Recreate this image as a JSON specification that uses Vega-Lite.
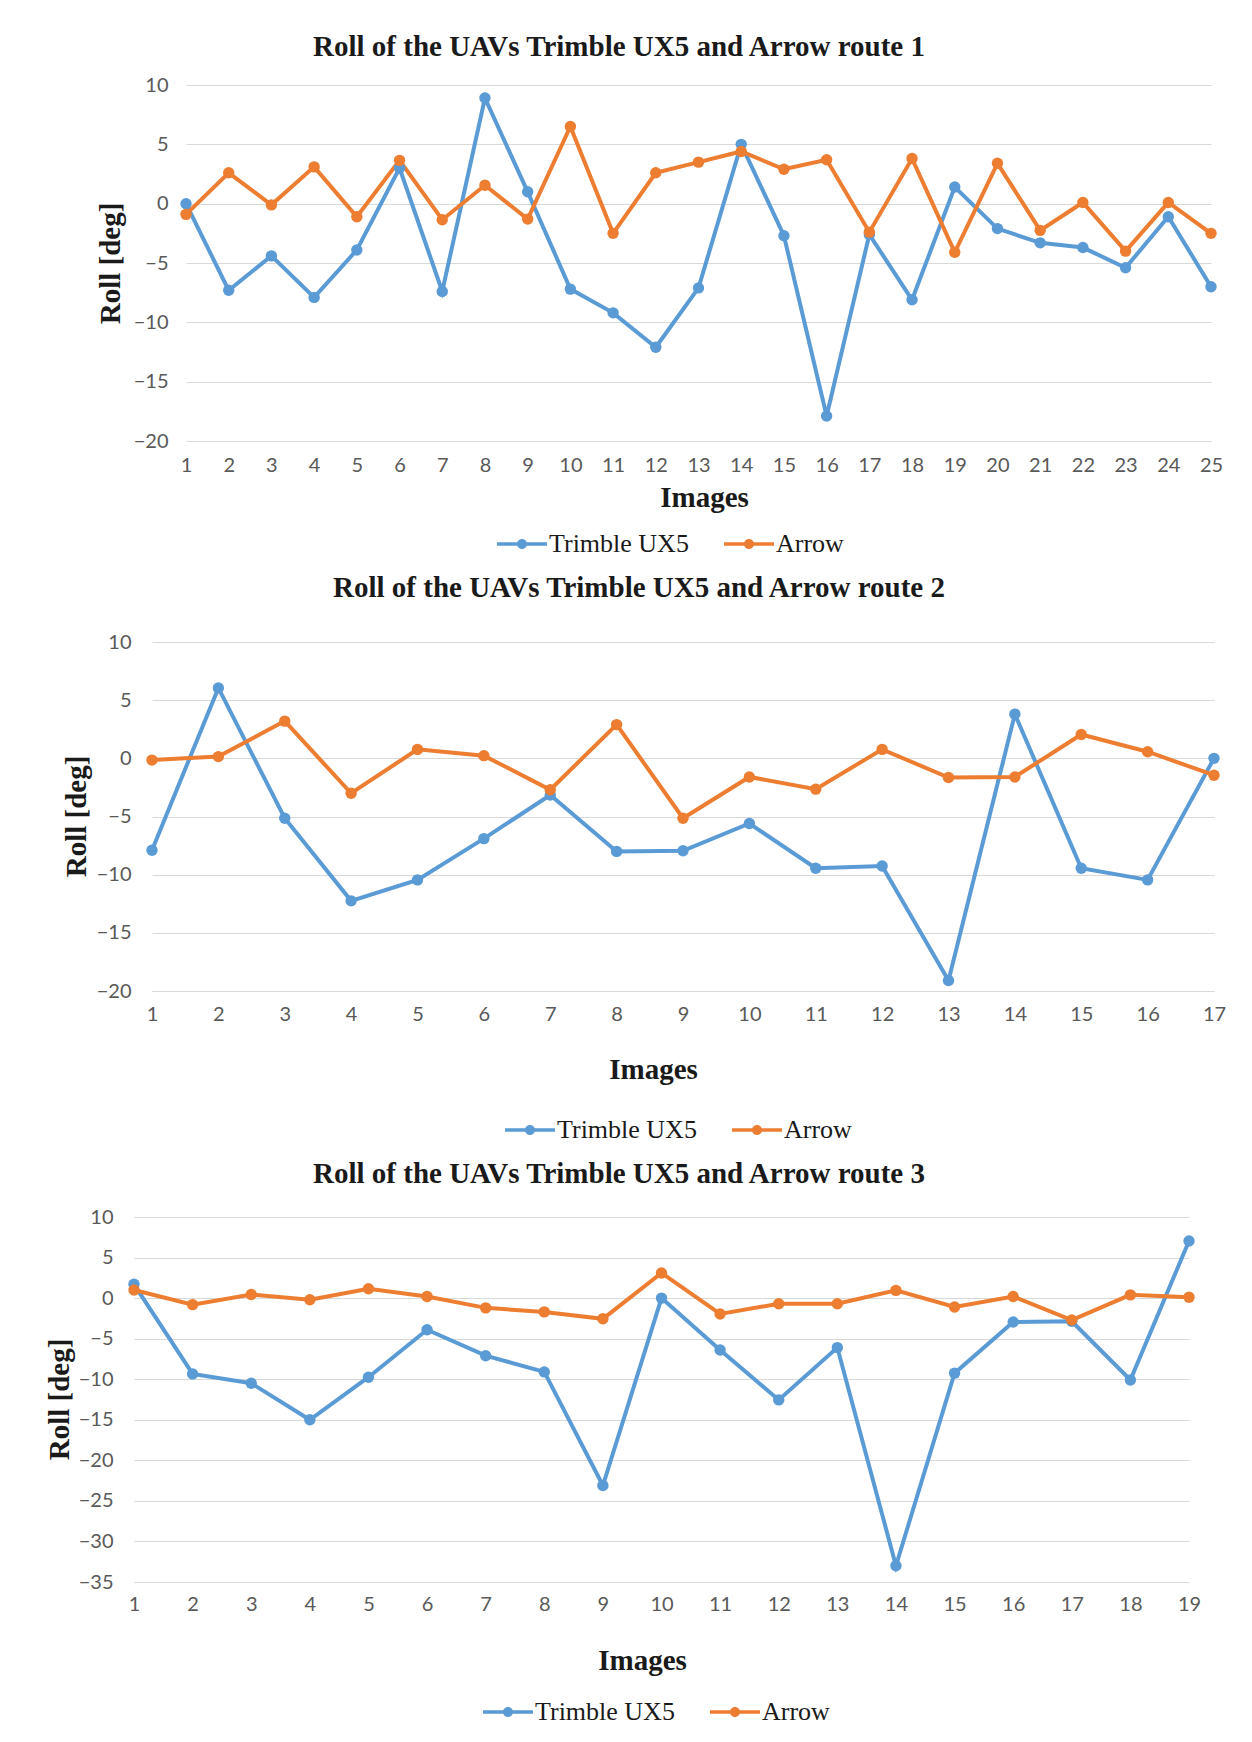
{
  "$schema": "https://vega.github.io/schema/vega-lite/v6.json",
  "background": "white",
  "padding": {"left": 45, "top": 33, "right": 5, "bottom": 5},
  "spacing": 17,
  "datasets": {
    "r1": [
      {"image":1,"series":"Trimble UX5","roll":0},{"image":2,"series":"Trimble UX5","roll":-7.3},{"image":3,"series":"Trimble UX5","roll":-4.4},{"image":4,"series":"Trimble UX5","roll":-7.9},{"image":5,"series":"Trimble UX5","roll":-3.9},{"image":6,"series":"Trimble UX5","roll":3.0},{"image":7,"series":"Trimble UX5","roll":-7.4},{"image":8,"series":"Trimble UX5","roll":8.9},{"image":9,"series":"Trimble UX5","roll":1.0},{"image":10,"series":"Trimble UX5","roll":-7.2},{"image":11,"series":"Trimble UX5","roll":-9.2},{"image":12,"series":"Trimble UX5","roll":-12.1},{"image":13,"series":"Trimble UX5","roll":-7.1},{"image":14,"series":"Trimble UX5","roll":5.0},{"image":15,"series":"Trimble UX5","roll":-2.7},{"image":16,"series":"Trimble UX5","roll":-17.9},{"image":17,"series":"Trimble UX5","roll":-2.6},{"image":18,"series":"Trimble UX5","roll":-8.1},{"image":19,"series":"Trimble UX5","roll":1.4},{"image":20,"series":"Trimble UX5","roll":-2.1},{"image":21,"series":"Trimble UX5","roll":-3.3},{"image":22,"series":"Trimble UX5","roll":-3.7},{"image":23,"series":"Trimble UX5","roll":-5.4},{"image":24,"series":"Trimble UX5","roll":-1.1},{"image":25,"series":"Trimble UX5","roll":-7.0},
      {"image":1,"series":"Arrow","roll":-0.9},{"image":2,"series":"Arrow","roll":2.6},{"image":3,"series":"Arrow","roll":-0.1},{"image":4,"series":"Arrow","roll":3.1},{"image":5,"series":"Arrow","roll":-1.1},{"image":6,"series":"Arrow","roll":3.65},{"image":7,"series":"Arrow","roll":-1.35},{"image":8,"series":"Arrow","roll":1.55},{"image":9,"series":"Arrow","roll":-1.3},{"image":10,"series":"Arrow","roll":6.5},{"image":11,"series":"Arrow","roll":-2.5},{"image":12,"series":"Arrow","roll":2.6},{"image":13,"series":"Arrow","roll":3.5},{"image":14,"series":"Arrow","roll":4.4},{"image":15,"series":"Arrow","roll":2.9},{"image":16,"series":"Arrow","roll":3.7},{"image":17,"series":"Arrow","roll":-2.4},{"image":18,"series":"Arrow","roll":3.8},{"image":19,"series":"Arrow","roll":-4.1},{"image":20,"series":"Arrow","roll":3.4},{"image":21,"series":"Arrow","roll":-2.25},{"image":22,"series":"Arrow","roll":0.1},{"image":23,"series":"Arrow","roll":-4.0},{"image":24,"series":"Arrow","roll":0.1},{"image":25,"series":"Arrow","roll":-2.5}
    ],
    "r2": [
      {"image":1,"series":"Trimble UX5","roll":-7.9},{"image":2,"series":"Trimble UX5","roll":6.05},{"image":3,"series":"Trimble UX5","roll":-5.15},{"image":4,"series":"Trimble UX5","roll":-12.25},{"image":5,"series":"Trimble UX5","roll":-10.45},{"image":6,"series":"Trimble UX5","roll":-6.9},{"image":7,"series":"Trimble UX5","roll":-3.15},{"image":8,"series":"Trimble UX5","roll":-8.0},{"image":9,"series":"Trimble UX5","roll":-7.95},{"image":10,"series":"Trimble UX5","roll":-5.6},{"image":11,"series":"Trimble UX5","roll":-9.45},{"image":12,"series":"Trimble UX5","roll":-9.25},{"image":13,"series":"Trimble UX5","roll":-19.1},{"image":14,"series":"Trimble UX5","roll":3.8},{"image":15,"series":"Trimble UX5","roll":-9.45},{"image":16,"series":"Trimble UX5","roll":-10.45},{"image":17,"series":"Trimble UX5","roll":0},
      {"image":1,"series":"Arrow","roll":-0.15},{"image":2,"series":"Arrow","roll":0.15},{"image":3,"series":"Arrow","roll":3.2},{"image":4,"series":"Arrow","roll":-3.0},{"image":5,"series":"Arrow","roll":0.77},{"image":6,"series":"Arrow","roll":0.23},{"image":7,"series":"Arrow","roll":-2.7},{"image":8,"series":"Arrow","roll":2.9},{"image":9,"series":"Arrow","roll":-5.15},{"image":10,"series":"Arrow","roll":-1.6},{"image":11,"series":"Arrow","roll":-2.65},{"image":12,"series":"Arrow","roll":0.77},{"image":13,"series":"Arrow","roll":-1.65},{"image":14,"series":"Arrow","roll":-1.6},{"image":15,"series":"Arrow","roll":2.05},{"image":16,"series":"Arrow","roll":0.57},{"image":17,"series":"Arrow","roll":-1.45}
    ],
    "r3": [
      {"image":1,"series":"Trimble UX5","roll":1.7},{"image":2,"series":"Trimble UX5","roll":-9.35},{"image":3,"series":"Trimble UX5","roll":-10.5},{"image":4,"series":"Trimble UX5","roll":-15.0},{"image":5,"series":"Trimble UX5","roll":-9.75},{"image":6,"series":"Trimble UX5","roll":-3.9},{"image":7,"series":"Trimble UX5","roll":-7.1},{"image":8,"series":"Trimble UX5","roll":-9.1},{"image":9,"series":"Trimble UX5","roll":-23.1},{"image":10,"series":"Trimble UX5","roll":0},{"image":11,"series":"Trimble UX5","roll":-6.4},{"image":12,"series":"Trimble UX5","roll":-12.55},{"image":13,"series":"Trimble UX5","roll":-6.1},{"image":14,"series":"Trimble UX5","roll":-33.0},{"image":15,"series":"Trimble UX5","roll":-9.25},{"image":16,"series":"Trimble UX5","roll":-2.95},{"image":17,"series":"Trimble UX5","roll":-2.85},{"image":18,"series":"Trimble UX5","roll":-10.1},{"image":19,"series":"Trimble UX5","roll":7.05},
      {"image":1,"series":"Arrow","roll":1.0},{"image":2,"series":"Arrow","roll":-0.8},{"image":3,"series":"Arrow","roll":0.45},{"image":4,"series":"Arrow","roll":-0.2},{"image":5,"series":"Arrow","roll":1.15},{"image":6,"series":"Arrow","roll":0.2},{"image":7,"series":"Arrow","roll":-1.2},{"image":8,"series":"Arrow","roll":-1.7},{"image":9,"series":"Arrow","roll":-2.55},{"image":10,"series":"Arrow","roll":3.1},{"image":11,"series":"Arrow","roll":-1.95},{"image":12,"series":"Arrow","roll":-0.7},{"image":13,"series":"Arrow","roll":-0.7},{"image":14,"series":"Arrow","roll":0.95},{"image":15,"series":"Arrow","roll":-1.1},{"image":16,"series":"Arrow","roll":0.2},{"image":17,"series":"Arrow","roll":-2.7},{"image":18,"series":"Arrow","roll":0.4},{"image":19,"series":"Arrow","roll":0.1}
    ]
  },
  "resolve": {"scale": {"x": "independent", "y": "independent", "color": "independent"}, "legend": {"color": "independent"}},
  "vconcat": [
    {
      "data": {"name": "r1"},
      "width": 1080,
      "height": 356,
      "title": {"text": "Roll of the UAVs Trimble UX5 and Arrow route 1", "frame": "group", "anchor": "middle", "dx": -55, "baseline": "middle", "offset": -1},
      "encoding": {
        "x": {"field": "image", "type": "quantitative", "title": "Images", "scale": {"domain": [1, 25], "nice": false, "zero": false, "range": [52, 1077]},
              "axis": {"values": [1,2,3,4,5,6,7,8,9,10,11,12,13,14,15,16,17,18,19,20,21,22,23,24,25], "grid": false, "labelFlush": false, "labelPadding": 14, "titleX": 570, "titleY": 56, "titleBaseline": "middle"}},
        "y": {"field": "roll", "type": "quantitative", "title": "Roll [deg]", "scale": {"domain": [-20, 10], "nice": false},
              "axis": {"values": [-20,-15,-10,-5,0,5,10], "offset": -50, "labelPadding": 16, "titleX": -74, "titleY": 178, "titleBaseline": "middle", "titleAlign": "center", "titleAngle": 270}},
        "color": {"field": "series", "type": "nominal", "sort": ["Trimble UX5", "Arrow"], "scale": {"domain": ["Trimble UX5", "Arrow"], "range": ["#5B9BD5", "#ED7D31"]},
                  "legend": {"title": null, "orient": "none", "direction": "horizontal", "legendX": 363, "legendY": 434}}
      },
      "layer": [
        {"mark": {"type": "line", "strokeWidth": 4}},
        {"mark": {"type": "point", "filled": true, "size": 130, "opacity": 1}}
      ]
    },
    {
      "data": {"name": "r2"},
      "width": 1080,
      "height": 349,
      "title": {"text": "Roll of the UAVs Trimble UX5 and Arrow route 2", "frame": "group", "anchor": "middle", "dx": -35, "baseline": "middle", "offset": 15},
      "encoding": {
        "x": {"field": "image", "type": "quantitative", "title": "Images", "scale": {"domain": [1, 17], "nice": false, "zero": false, "range": [18, 1080]},
              "axis": {"values": [1,2,3,4,5,6,7,8,9,10,11,12,13,14,15,16,17], "grid": false, "labelFlush": false, "labelPadding": 13, "titleX": 519, "titleY": 78, "titleBaseline": "middle"}},
        "y": {"field": "roll", "type": "quantitative", "title": "Roll [deg]", "scale": {"domain": [-20, 10], "nice": false},
              "axis": {"values": [-20,-15,-10,-5,0,5,10], "offset": -18, "labelPadding": 21, "titleX": -76, "titleY": 174, "titleBaseline": "middle", "titleAlign": "center", "titleAngle": 270}},
        "color": {"field": "series", "type": "nominal", "sort": ["Trimble UX5", "Arrow"], "scale": {"domain": ["Trimble UX5", "Arrow"], "range": ["#5B9BD5", "#ED7D31"]},
                  "legend": {"title": null, "orient": "none", "direction": "horizontal", "legendX": 371, "legendY": 463}}
      },
      "layer": [
        {"mark": {"type": "line", "strokeWidth": 4}},
        {"mark": {"type": "point", "filled": true, "size": 130, "opacity": 1}}
      ]
    },
    {
      "data": {"name": "r3"},
      "width": 1080,
      "height": 365,
      "title": {"text": "Roll of the UAVs Trimble UX5 and Arrow route 3", "frame": "group", "anchor": "middle", "dx": -55, "baseline": "middle", "offset": 4},
      "encoding": {
        "x": {"field": "image", "type": "quantitative", "title": "Images", "scale": {"domain": [1, 19], "nice": false, "zero": false, "range": [0, 1055]},
              "axis": {"values": [1,2,3,4,5,6,7,8,9,10,11,12,13,14,15,16,17,18,19], "grid": false, "labelFlush": false, "labelPadding": 12, "titleX": 508, "titleY": 78, "titleBaseline": "middle"}},
        "y": {"field": "roll", "type": "quantitative", "title": "Roll [deg]", "scale": {"domain": [-35, 10], "nice": false},
              "axis": {"values": [-35,-30,-25,-20,-15,-10,-5,0,5,10], "labelPadding": 21, "titleX": -75, "titleY": 182, "titleBaseline": "middle", "titleAlign": "center", "titleAngle": 270}},
        "color": {"field": "series", "type": "nominal", "sort": ["Trimble UX5", "Arrow"], "scale": {"domain": ["Trimble UX5", "Arrow"], "range": ["#5B9BD5", "#ED7D31"]},
                  "legend": {"title": null, "orient": "none", "direction": "horizontal", "legendX": 349, "legendY": 470}}
      },
      "layer": [
        {"mark": {"type": "line", "strokeWidth": 4}},
        {"mark": {"type": "point", "filled": true, "size": 130, "opacity": 1}}
      ]
    }
  ],
  "config": {
    "view": {"stroke": null},
    "title": {"font": "Liberation Serif", "fontSize": 29, "fontWeight": "bold", "color": "#1a1a1a"},
    "axis": {"labelFont": "Lato", "labelFontSize": 20, "labelColor": "#595959", "gridColor": "#d9d9d9", "gridWidth": 1.2, "domain": false, "ticks": false,
             "titleFont": "Liberation Serif", "titleFontSize": 29, "titleFontWeight": "bold", "titleColor": "#1a1a1a"},
    "axisX": {"domain": true, "domainColor": "#d9d9d9", "domainWidth": 1.2},
    "legend": {"labelFont": "Liberation Serif", "labelFontSize": 26, "labelColor": "#1a1a1a", "labelOffset": 2, "columnPadding": 35,
               "symbolType": "M-1,-0.07H1V0.07H-1Z M0.2,0A0.2,0.2,0,1,1,-0.2,0A0.2,0.2,0,1,1,0.2,0Z",
               "symbolSize": 2500, "symbolStrokeWidth": 0, "symbolOpacity": 1}
  }
}
